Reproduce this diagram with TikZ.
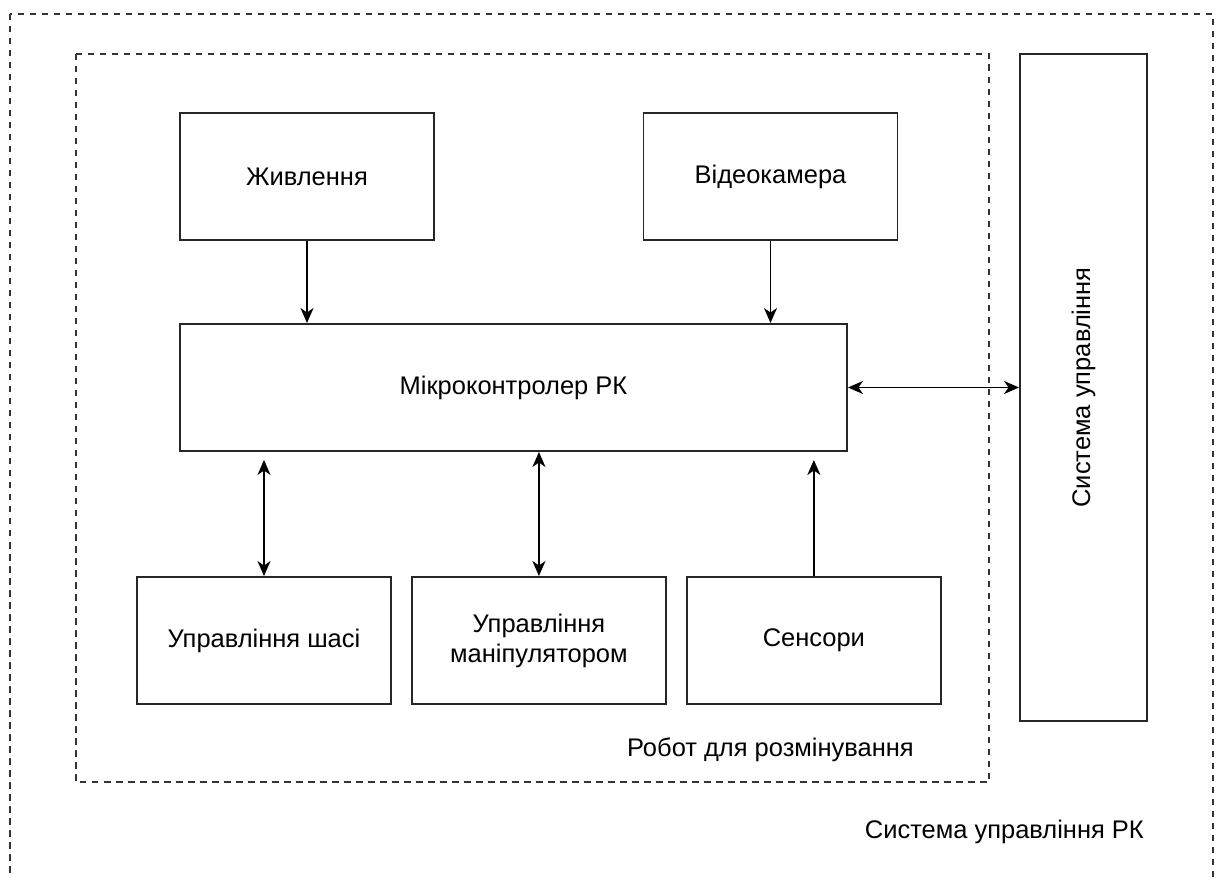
\documentclass[tikz,border=0pt]{standalone}
\usepackage{fontspec}
\setmainfont{Liberation Sans}
\usetikzlibrary{arrows.meta,positioning,calc}

\begin{document}
\begin{tikzpicture}[
every node/.style={font=\fontsize{14.5}{17}\selectfont},
unit/.style={draw=black!85,line width=1.1pt,inner sep=2pt,minimum width=50.8mm,minimum height=25.4mm,align=center},
frame/.style={draw=black!80,line width=1.1pt,dash pattern=on 1.3mm off 1.1mm},
arr/.style={-{Stealth[length=3mm,width=2.6mm,inset=0.9mm]},line width=1.1pt},
biarr/.style={{Stealth[length=3mm,width=2.6mm,inset=0.9mm]}-{Stealth[length=3mm,width=2.6mm,inset=0.9mm]},line width=1.1pt}
]
\clip (0,0) rectangle (24.36,-17.56);
\draw[frame] (0.2,-0.28) rectangle (24.26,-18.6);
\draw[frame] (1.52,-1.08) rectangle (19.78,-15.64);

\node[unit,minimum width=133.4mm] (mcu) at (10.27,-7.75) {Мікроконтролер РК};
\node[unit,above=16.4mm of mcu.north west,anchor=south west] (pwr) {Живлення};
\node[unit] (cam) at (15.41,-3.53) {Відеокамера};

\node[unit] (chassis) at (5.28,-12.81) {Управління шасі};
\node[unit,right=3.8mm of chassis] (manip) {Управління\\маніпулятором};
\node[unit,right=3.8mm of manip]   (sens)  {Сенсори};

\node[unit,minimum width=25.4mm,minimum height=133.4mm] (ctrl) at (21.67,-7.75) {};
\node[rotate=90] (ctrltxt) at (ctrl.center) {Система управління};

\node[anchor=east] (robot) at (18.4,-15.0) {Робот для розмінування};
\node[anchor=east] (system) at (23.0,-16.64) {Система управління РК};

\draw[arr] (pwr) -- (pwr |- mcu.north);
\draw[arr] (cam) -- (cam |- mcu.north);
\draw[biarr] (mcu) -- (ctrl);
\draw[biarr,shorten >=1.6mm] (chassis) -- (chassis |- mcu.south);
\draw[biarr] (manip) -- (manip |- mcu.south);
\draw[arr,shorten >=1.6mm] (sens) -- (sens |- mcu.south);
\end{tikzpicture}
\end{document}
